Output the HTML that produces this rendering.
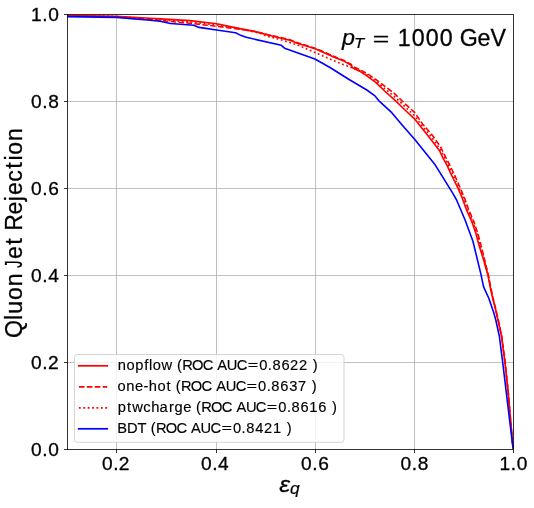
<!DOCTYPE html>
<html><head><meta charset="utf-8"><title>ROC</title>
<style>
html,body{margin:0;padding:0;background:#fff;}
body{width:534px;height:508px;overflow:hidden;}
svg{display:block;will-change:transform;}
text{font-family:"Liberation Sans",sans-serif;fill:#000;}
</style></head><body>
<svg width="534" height="508" viewBox="0 0 534 508">
<rect width="534" height="508" fill="#fff"/>
<g stroke="#b0b0b0" stroke-width="0.8" fill="none">
<line x1="116.5" y1="14.5" x2="116.5" y2="449.5"/>
<line x1="216.5" y1="14.5" x2="216.5" y2="449.5"/>
<line x1="315.5" y1="14.5" x2="315.5" y2="449.5"/>
<line x1="414.5" y1="14.5" x2="414.5" y2="449.5"/>
<line x1="67.5" y1="101.5" x2="513.5" y2="101.5"/>
<line x1="67.5" y1="188.5" x2="513.5" y2="188.5"/>
<line x1="67.5" y1="275.5" x2="513.5" y2="275.5"/>
<line x1="67.5" y1="362.5" x2="513.5" y2="362.5"/>
</g>
<g stroke="#000" stroke-width="0.8" fill="none">
<line x1="116.5" y1="449.5" x2="116.5" y2="453.0"/>
<line x1="216.5" y1="449.5" x2="216.5" y2="453.0"/>
<line x1="315.5" y1="449.5" x2="315.5" y2="453.0"/>
<line x1="414.5" y1="449.5" x2="414.5" y2="453.0"/>
<line x1="513.5" y1="449.5" x2="513.5" y2="453.0"/>
<line x1="64.0" y1="14.5" x2="67.5" y2="14.5"/>
<line x1="64.0" y1="101.5" x2="67.5" y2="101.5"/>
<line x1="64.0" y1="188.5" x2="67.5" y2="188.5"/>
<line x1="64.0" y1="275.5" x2="67.5" y2="275.5"/>
<line x1="64.0" y1="362.5" x2="67.5" y2="362.5"/>
<line x1="64.0" y1="449.5" x2="67.5" y2="449.5"/>
</g>
<clipPath id="c"><rect x="67.5" y="14.5" width="446.0" height="435.0"/></clipPath>
<g clip-path="url(#c)" fill="none" stroke-width="1.6" stroke-linejoin="round">
<path d="M67.5,15.5 L116.5,16.2 L150.0,18.2 L160.0,18.9 L190.0,20.6 L216.6,23.7 L240.0,28.6 L254.0,31.4 L272.0,36.0 L289.9,40.2 L296.0,42.8 L315.7,48.9 L336.0,57.9 L343.9,61.1 L351.0,65.0 L352.5,67.7 L359.6,71.2 L367.5,76.4 L376.0,82.6 L384.6,91.0 L394.0,99.4 L396.9,102.2 L405.0,110.0 L414.5,118.8 L418.6,123.9 L428.0,135.7 L437.1,147.5 L439.4,150.4 L442.9,157.9 L447.2,165.7 L450.8,173.6 L454.7,181.5 L458.1,188.4 L462.1,197.8 L466.4,209.6 L471.8,221.7 L476.0,233.8 L479.1,245.6 L483.0,258.0 L488.0,275.3 L490.7,289.5 L492.6,298.0 L495.0,307.4 L497.9,320.0 L501.4,336.0 L504.6,359.9 L507.8,389.1 L510.4,418.4 L512.8,445.0 L513.5,449.5" stroke="#ff0000" stroke-linecap="square"/>
<path d="M67.5,15.8 L116.5,16.8 L150.0,19.4 L160.0,20.5 L190.0,23.3 L216.6,26.3 L240.0,29.2 L254.0,31.2 L272.0,35.6 L289.9,39.8 L296.0,42.3 L315.7,48.4 L336.0,57.3 L343.9,60.5 L351.0,64.3 L353.0,66.5 L359.6,69.6 L367.5,73.8 L376.0,79.6 L384.6,86.2 L394.0,93.1 L402.5,101.4 L414.5,112.4 L422.5,123.9 L432.7,135.7 L441.0,147.5 L442.1,150.0 L446.0,157.9 L450.0,165.7 L453.9,173.6 L457.4,181.5 L460.4,188.4 L464.4,197.8 L468.7,209.6 L473.9,221.7 L477.9,233.8 L481.1,245.6 L484.2,258.0 L488.4,275.3 L491.2,289.5 L493.0,298.0 L495.4,307.4 L498.3,320.0 L501.7,336.0 L504.9,359.9 L508.0,389.1 L510.5,418.4 L512.8,445.0 L513.5,449.5" stroke="#ff0000" stroke-dasharray="5.55 2.4"/>
<path d="M67.5,15.6 L116.5,16.5 L150.0,18.8 L160.0,19.7 L190.0,22.0 L216.6,25.0 L240.0,28.9 L254.0,31.8 L262.4,34.0 L266.0,36.0 L278.0,39.0 L290.0,42.6 L298.3,45.3 L315.7,52.9 L335.3,61.3 L341.5,63.8 L345.8,65.4 L349.8,67.0 L352.5,67.9 L359.6,70.4 L367.5,75.1 L376.0,81.0 L384.6,88.6 L394.0,96.2 L399.7,101.6 L414.5,115.6 L420.5,123.9 L430.4,135.7 L439.0,147.5 L440.8,150.2 L444.5,157.9 L448.6,165.7 L452.4,173.6 L456.0,181.5 L459.2,188.4 L463.2,197.8 L467.5,209.6 L472.8,221.7 L477.0,233.8 L480.1,245.6 L483.6,258.0 L488.2,275.3 L490.9,289.5 L492.8,298.0 L495.2,307.4 L498.1,320.0 L501.6,336.0 L504.7,359.9 L507.9,389.1 L510.4,418.4 L512.8,445.0 L513.5,449.5" stroke="#ff0000" stroke-dasharray="1.8 2.6"/>
<path d="M67.5,16.6 L116.5,17.4 L150.0,20.3 L160.0,21.2 L170.5,23.5 L193.7,25.2 L199.0,27.4 L216.6,30.0 L235.5,32.8 L239.9,34.9 L246.2,37.3 L281.3,45.3 L284.6,48.2 L314.9,59.0 L330.0,67.5 L348.7,79.3 L366.8,90.0 L375.0,95.9 L378.7,100.6 L391.8,112.7 L402.1,124.9 L414.6,139.3 L435.3,165.1 L445.1,180.9 L453.0,193.7 L456.6,200.0 L465.0,219.8 L473.0,241.5 L480.9,274.1 L483.6,286.9 L488.7,298.0 L493.7,312.5 L495.8,320.0 L499.3,336.0 L502.4,359.9 L505.9,389.1 L509.4,418.4 L512.6,445.0 L513.5,449.5" stroke="#0000ff" stroke-linecap="square"/>
</g>
<rect x="67.5" y="14.5" width="446.0" height="435.0" fill="none" stroke="#000" stroke-width="0.8"/>
<text transform="translate(101.49,469.8)" x="0.40 11.65 17.34" font-size="19.13" stroke="#000" stroke-width="0.3">0.2</text>
<text transform="translate(200.5,469.8)" x="0.40 11.65 17.57" font-size="19.13" stroke="#000" stroke-width="0.3">0.4</text>
<text transform="translate(300.56,469.8)" x="0.40 11.65 17.58" font-size="19.13" stroke="#000" stroke-width="0.3">0.6</text>
<text transform="translate(400.21,469.8)" x="0.40 11.65 17.57" font-size="19.13" stroke="#000" stroke-width="0.3">0.8</text>
<text transform="translate(499.1,469.8)" x="0.30 11.65 17.57" font-size="19.13" stroke="#000" stroke-width="0.3">1.0</text>
<text transform="translate(30.58,21.2)" x="0.30 11.65 17.57" font-size="19.13" stroke="#000" stroke-width="0.3">1.0</text>
<text transform="translate(30.58,108.2)" x="0.40 11.65 17.57" font-size="19.13" stroke="#000" stroke-width="0.3">0.8</text>
<text transform="translate(30.58,195.2)" x="0.40 11.65 17.58" font-size="19.13" stroke="#000" stroke-width="0.3">0.6</text>
<text transform="translate(30.58,282.2)" x="0.40 11.65 17.57" font-size="19.13" stroke="#000" stroke-width="0.3">0.4</text>
<text transform="translate(30.58,369.2)" x="0.40 11.65 17.34" font-size="19.13" stroke="#000" stroke-width="0.3">0.2</text>
<text transform="translate(30.58,456.2)" x="0.40 11.65 17.57" font-size="19.13" stroke="#000" stroke-width="0.3">0.0</text>
<text transform="translate(22.2,337.7) rotate(-90)" x="-0.32 17.81 23.93 37.68 51.43" font-size="23.10" stroke="#000" stroke-width="0.28">Qluon</text>
<text transform="translate(22.2,337.7) rotate(-90) translate(69.61,0.00) scale(0.693,1.050)" font-size="22" stroke="#000" stroke-width="0.28">J</text>
<text transform="translate(22.2,337.7) rotate(-90)" x="78.64 92.84 100.42 107.06 123.09 136.55 142.73 155.89 169.02 177.10 183.03 196.77" font-size="23.10" stroke="#000" stroke-width="0.28">et Rejection</text>
<text transform="translate(279.30,492.08) scale(1.068,1)" font-size="22.84" font-style="italic" stroke="#000" stroke-width="0.25">ε</text>
<text transform="translate(290.01,494.46) scale(1.084,1)" font-size="16.10" font-style="italic" stroke="#000" stroke-width="0.2">q</text>
<text transform="translate(341.98,45.45) scale(1.041,1)" font-size="22.40" font-style="italic" stroke="#000" stroke-width="0.25">p</text>
<text transform="translate(354.10,47.80) scale(1.139,1)" font-size="14.68" font-style="italic" stroke="#000" stroke-width="0.2">T</text>
<text transform="translate(371.8,45.6) translate(0.95,-0.55) scale(1.288,0.876)" font-size="22" stroke="#000" stroke-width="0.28">=</text>
<text transform="translate(371.8,45.6)" x="25.85 39.96 53.96 67.96 81.42 87.90 105.81 118.77" font-size="23.21" stroke="#000" stroke-width="0.28">1000 GeV</text>
<rect x="74.5" y="354.5" width="269.5" height="87.8" rx="2.8" ry="2.8" fill="#fff" fill-opacity="0.8" stroke="#cccccc" stroke-opacity="0.8" stroke-width="1"/>
<line x1="78.7" y1="365.8" x2="107.3" y2="365.8" stroke="#ff0000" stroke-width="1.7" stroke-linecap="square"/>
<text transform="translate(117.4,369.5)" x="0.38 9.07 17.88 26.93 31.57 35.34 44.12 55.16 59.52 64.85 74.60 85.32 95.59 99.93 109.44 119.37" font-size="14.70" stroke="#000" stroke-width="0.15">nopflow (ROC AUC</text>
<text transform="translate(117.4,369.5) translate(130.25,-0.35) scale(1.288,0.876)" font-size="14" stroke="#000" stroke-width="0.15">=</text>
<text transform="translate(117.4,369.5)" x="141.74 150.46 155.09 164.00 172.72 181.63 190.36 195.47" font-size="14.70" stroke="#000" stroke-width="0.15">0.8622 )</text>
<line x1="78.9" y1="386.8" x2="107.2" y2="386.8" stroke="#ff0000" stroke-width="1.7" stroke-dasharray="5.55 2.4"/>
<text transform="translate(117.4,390.5)" x="0.20 8.94 17.69 26.13 31.46 40.17 49.21 54.03 58.39 63.72 73.47 84.19 94.47 98.80 108.31 118.24" font-size="14.70" stroke="#000" stroke-width="0.15">one-hot (ROC AUC</text>
<text transform="translate(117.4,390.5) translate(129.12,-0.35) scale(1.288,0.876)" font-size="14" stroke="#000" stroke-width="0.15">=</text>
<text transform="translate(117.4,390.5)" x="140.61 149.33 153.97 162.87 171.80 180.66 189.23 194.34" font-size="14.70" stroke="#000" stroke-width="0.15">0.8637 )</text>
<line x1="78.9" y1="407.8" x2="107.2" y2="407.8" stroke="#ff0000" stroke-width="1.7" stroke-dasharray="1.8 2.6"/>
<text transform="translate(117.4,411.5)" x="0.44 9.55 14.79 25.83 33.88 42.07 51.68 57.00 65.87 74.23 78.59 83.92 93.67 104.39 114.67 119.00 128.51 138.44" font-size="14.70" stroke="#000" stroke-width="0.15">ptwcharge (ROC AUC</text>
<text transform="translate(117.4,411.5) translate(149.32,-0.35) scale(1.288,0.876)" font-size="14" stroke="#000" stroke-width="0.15">=</text>
<text transform="translate(117.4,411.5)" x="160.81 169.53 174.17 183.07 191.91 200.89 209.43 214.54" font-size="14.70" stroke="#000" stroke-width="0.15">0.8616 )</text>
<line x1="78.7" y1="428.8" x2="107.3" y2="428.8" stroke="#0000ff" stroke-width="1.7" stroke-linecap="square"/>
<text transform="translate(117.4,432.5)" x="-0.12 9.71 20.17 28.94 33.30 38.63 48.37 59.10 69.37 73.70 83.21 93.15" font-size="14.70" stroke="#000" stroke-width="0.15">BDT (ROC AUC</text>
<text transform="translate(117.4,432.5) translate(104.02,-0.35) scale(1.288,0.876)" font-size="14" stroke="#000" stroke-width="0.15">=</text>
<text transform="translate(117.4,432.5)" x="115.51 124.23 128.87 137.78 146.50 155.52 164.14 169.24" font-size="14.70" stroke="#000" stroke-width="0.15">0.8421 )</text>
</svg>
</body></html>
